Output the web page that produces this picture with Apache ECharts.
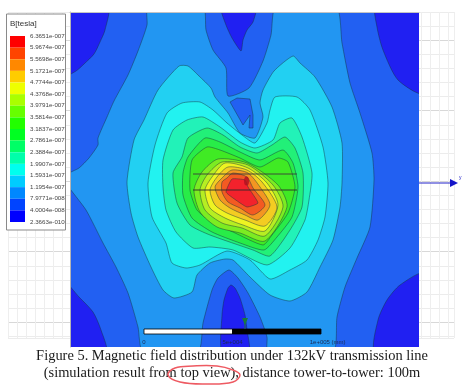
<!DOCTYPE html>
<html>
<head>
<meta charset="utf-8">
<style>
html,body{margin:0;padding:0;background:#fff;}
#c{width:468px;height:385px;filter:blur(0.35px);}
</style>
<script src="https://cdn.jsdelivr.net/npm/echarts@6/dist/echarts.min.js"></script>
</head>
<body>
<div id="c"></div>
<script>
// Colour-scale tick labels (tesla), top to bottom
const scaleTicks = ['6.3651e-007','5.9674e-007','5.5698e-007','5.1721e-007','4.7744e-007','4.3768e-007','3.9791e-007','3.5814e-007','3.1837e-007','2.7861e-007','2.3884e-007','1.9907e-007','1.5931e-007','1.1954e-007','7.9771e-008','4.0004e-008','2.3663e-010'];
const scaleColors = ['#ff0000','#ff4400','#ff8800','#ffcc00','#eeff00','#aaff00','#66ff00','#22ff00','#00ff22','#00ff66','#00ffaa','#00ffee','#00ccff','#0088ff','#0044ff','#0000ff'];

// Filled contour colours as they appear in the plot, outermost to innermost
const levelColors = ['#2020f2','#2260f2','#2296f2','#22d0f2','#22f2f0','#22f2b8','#22f078','#28ec48','#40ea24','#7cec22','#b6ee22','#eef322','#f3cc22','#f39622','#f35a22','#f3222c'];

// Contour outlines, in plot units
const cornerTL = [[66,6],[108,6],[105,30],[100,42],[94,54],[84,64],[76,71],[66,75]];
const cornerTR = [[376,6],[377,27],[383,50],[398,80],[423,93],[423,6]];
const cornerBL = [[66,284],[79,297],[93,312],[101,330],[106,352],[66,352]];
const cornerBR = [[423,274],[400,285],[387,300],[378,320],[375,352],[423,352]];
const lobeTop = [[221,6],[226,25],[232,38],[241,51],[243,40],[247,30],[253,22],[256,6]];
const lobeBottom = [[222,352],[222,315],[224,300],[228,288],[231,285],[235,288],[240,298],[245,315],[247,330],[249,352]];
const field1 = [[60,2],[430,2],[430,358],[60,358]];
const field2 = [[143,352],[138,327],[128,293],[116,267],[103,243],[86,210],[66,183],[66,175],[79,168],[89,158],[98,145],[98,138],[107,117],[114,101],[128,75],[138,51],[147,25],[148,6],[203,6],[206,30],[213,50],[226,68],[228,96],[249,88],[263,61],[271,35],[276,6],[336,6],[342,43],[350,83],[360,113],[372,153],[374,180],[370,227],[357,258],[345,287],[337,317],[333,352],[268,352],[267,337],[260,317],[248,293],[238,278],[229,270],[218,278],[212,290],[203,323],[198,352]];
const island = [[230,102],[237,98],[250,99],[253,115],[253,128],[249,128],[250,115],[243,125]];
const field3 = [[179,66],[188,66],[199,76],[211,88],[215,97],[228,113],[240,133],[255,138],[263,117],[260,103],[263,90],[274,71],[293,56],[300,63],[315,77],[332,107],[342,143],[342,183],[340,207],[333,240],[320,267],[307,292],[290,301],[270,295],[250,277],[233,260],[225,259],[210,263],[197,275],[192,292],[174,298],[163,290],[151,267],[138,237],[131,213],[127,182],[134,140],[144,120],[158,90]];
const field4 = [[182,103],[200,102],[213,110],[227,123],[242,135],[255,143],[267,123],[270,110],[275,97],[297,97],[310,110],[323,147],[328,183],[325,217],[318,240],[307,260],[290,270],[270,279],[250,260],[227,251],[200,265],[186,268],[172,263],[166,243],[152,217],[148,183],[155,145],[167,113]];
const field5 = [[173,130],[187,120],[203,117],[220,127],[240,142],[255,148],[273,140],[280,123],[292,118],[302,137],[312,173],[309,200],[305,220],[290,248],[267,265],[233,250],[210,247],[193,248],[176,232],[166,210],[163,187],[163,160]];
const field6 = [[173,173],[182,157],[188,138],[207,128],[223,135],[240,147],[257,153],[272,145],[285,137],[295,148],[303,173],[302,207],[290,230],[270,256],[253,250],[210,235],[190,225],[177,203]];
const field7 = [[183,173],[188,157],[205,138],[220,142],[240,152],[260,160],[283,150],[293,163],[298,187],[292,217],[277,237],[264,250],[240,243],[212,232],[192,218],[183,195]];
const field8 = [[192,160],[207,147],[220,150],[240,158],[260,167],[278,158],[288,162],[295,187],[288,213],[272,235],[263,245],[233,232],[213,223],[197,210],[190,190]];
const field9 = [[202,172],[218,159],[247,163],[278,185],[287,207],[265,241],[240,233],[217,227],[200,212],[194,190]];
const field10 = [[207,175],[222,162],[248,165],[273,185],[283,207],[265,236],[242,228],[222,223],[205,210],[200,190]];
const field11 = [[212,177],[225,163],[248,168],[267,183],[278,205],[265,231],[243,225],[225,218],[210,208],[205,190]];
const field12 = [[217,177],[228,167],[247,170],[262,182],[277,207],[265,226],[245,220],[227,213],[215,205],[210,190]];
const field13 = [[222,178],[232,170],[248,173],[260,187],[270,205],[258,220],[245,215],[230,208],[220,200],[215,187]];
const field14 = [[227,178],[233,173],[247,177],[253,188],[265,205],[253,215],[240,208],[228,202],[222,192],[222,182]];
const field15 = [[232,179],[245,180],[248,187],[258,203],[247,207],[233,198],[226,192]];

const contourBands = [
  [field1,1,0],[cornerTL,0,0.25],[cornerTR,0,0.25],[cornerBL,0,0.25],[cornerBR,0,0.25],[lobeTop,0,0.2],[lobeBottom,0,0.2],
  [field2,2,0.2],[island,1,0],[field3,3,0.2],[field4,4,0.2],[field5,5,0.2],[field6,6,0.2],[field7,7,0.2],[field8,8,0.2],
  [field9,9,0.25],[field10,10,0.25],[field11,11,0.25],[field12,12,0.25],[field13,13,0.25],[field14,14,0.25],[field15,15,0.15]
];

// Overhead conductors and the hot spot
const wireUpper = [[193,174],[297,174]];
const wireLower = [[193,190],[297,190]];
const hotSpot = [[246.5,181]];

// Scale bar (mm)
const barSegments = [[0,50000,'#ffffff'],[50000,100000,'#000000']];
const barLabels = {0:'0',50000:'5e+004',100000:'\u00a0\u00a0\u00a0\u00a0\u00a0\u00a0\u00a0\u00a01e+005 (mm)'};

const captionLines = ['Figure 5. Magnetic field distribution under 132kV transmission line','(simulation result from top view), distance tower-to-tower: 100m'];
const scaleTitle = 'B[tesla]';

const small = '"Liberation Sans",sans-serif';
const bgColors = ['#ececec','#ececec','#d8d8d8','#ececec','#ececec'];
const hidden = {axisLine:{show:false},axisTick:{show:false},axisLabel:{show:false},splitLine:{show:false}};

const chart = echarts.init(document.getElementById('c'),null,{renderer:'canvas'});
chart.setOption({
  animation:false,
  backgroundColor:'#fff',
  grid:[
    {left:8,top:12,width:446,height:326},
    {left:70,top:12,width:349,height:335},
    {left:10,top:36,width:15,height:186},
    {left:144,top:329,width:177,height:5}
  ],
  xAxis:[
    {gridIndex:0,type:'value',min:0,max:49.6,interval:1,axisLine:{show:false},axisTick:{show:false},axisLabel:{show:false},splitLine:{show:true,lineStyle:{color:'#eeeeee',width:1}}},
    Object.assign({gridIndex:1,type:'value',min:70,max:419},hidden,{position:'top',axisLine:{show:true,onZero:false,lineStyle:{color:'#c4c4c4',width:1}},z:20}),
    Object.assign({gridIndex:2,type:'value',min:0,max:1},hidden),
    {gridIndex:3,type:'value',min:0,max:100000,interval:50000,z:20,axisLine:{show:false},axisTick:{show:false},splitLine:{show:false},
     axisLabel:{margin:5,fontSize:6,fontFamily:small,color:'#1a2a55',formatter:v=>barLabels[v]}}
  ],
  yAxis:[
    {gridIndex:0,type:'value',min:0,max:23.12,interval:1,inverse:true,axisLine:{show:false},axisTick:{show:false},axisLabel:{show:false},splitLine:{show:true,lineStyle:{color:bgColors,width:1}}},
    Object.assign({gridIndex:1,type:'value',min:12,max:347,inverse:true},hidden,{axisLine:{show:true,onZero:false,lineStyle:{color:'#b4b4b4',width:1}},z:20}),
    {gridIndex:2,type:'category',data:scaleTicks,boundaryGap:false,inverse:true,position:'right',z:20,
     axisLine:{show:false},axisTick:{show:false},splitLine:{show:false},
     axisLabel:{interval:0,margin:5,fontSize:6.2,fontFamily:small,color:'#444444'}},
    Object.assign({gridIndex:3,type:'value',min:0,max:1},hidden)
  ],
  graphic:[
    {type:'rect',z:5,shape:{x:6.5,y:14,width:59,height:216},style:{fill:'#ffffff',stroke:'#8a8a8a',lineWidth:1}},
    {type:'text',z:20,x:10,y:24,style:{text:scaleTitle,font:'8px '+small,fill:'#333',textVerticalAlign:'middle'}},
    {type:'text',z:20,x:232,y:356,style:{text:captionLines[0],font:'14.45px "Liberation Serif",serif',fill:'#1a1a1a',textAlign:'center',textVerticalAlign:'middle'}},
    {type:'text',z:20,x:232,y:373,style:{text:captionLines[1],font:'14.45px "Liberation Serif",serif',fill:'#1a1a1a',textAlign:'center',textVerticalAlign:'middle'}},
    {type:'polygon',z:21,shape:{smooth:0.4,points:[[175,368],[193,366],[217,366],[233,370],[240,375],[233,382],[207,384],[180,382],[168,375]]},style:{fill:'none',stroke:'#ee5a62',lineWidth:1.5}},
    {type:'line',z:20,shape:{x1:419,y1:183,x2:451,y2:183},style:{stroke:'#2222c8',lineWidth:1}},
    {type:'polygon',z:20,shape:{points:[[450,179],[458,183],[450,187]]},style:{fill:'#1414c8'}},
    {type:'text',z:20,x:459,y:178,style:{text:'y',font:'5px '+small,fill:'#2222c8',textVerticalAlign:'middle'}},
    {type:'line',z:20,shape:{x1:245,y1:318,x2:245,y2:329},style:{stroke:'#1a7a3a',lineWidth:1}},
    {type:'polygon',z:20,shape:{points:[[242,318],[248,318],[245,325]]},style:{fill:'#1a7a3a'}}
  ],
  series:[
    {type:'custom',xAxisIndex:1,yAxisIndex:1,clip:true,z:3,silent:true,
     data:contourBands.map((b,i)=>[i]),encode:{x:[],y:[]},
     renderItem:(params,api)=>{
       const b=contourBands[api.value(0)];
       return {type:'polygon',shape:{points:b[0].map(p=>api.coord(p)),smooth:b[2]},
         style:{fill:levelColors[b[1]],stroke:'rgba(20,50,60,0.65)',lineWidth:0.7}};
     }},
    {type:'line',xAxisIndex:1,yAxisIndex:1,z:6,symbol:'none',data:wireUpper,lineStyle:{color:'#3b3b3b',width:0.9},silent:true},
    {type:'line',xAxisIndex:1,yAxisIndex:1,z:6,symbol:'none',data:wireLower,lineStyle:{color:'#2b2b2b',width:0.9},silent:true},
    {type:'scatter',xAxisIndex:1,yAxisIndex:1,z:6,data:hotSpot,symbol:'circle',symbolSize:[5,9],itemStyle:{color:'#b01020'},silent:true},
    {type:'custom',xAxisIndex:2,yAxisIndex:2,z:10,silent:true,clip:false,
     data:scaleColors.map((c,i)=>[i]),encode:{x:[],y:[]},
     renderItem:(params,api)=>{
       const i=api.value(0);
       const a=api.coord([0,i]),b=api.coord([1,i+1]);
       return {type:'rect',shape:{x:a[0],y:a[1],width:b[0]-a[0],height:b[1]-a[1]},style:{fill:scaleColors[i]}};
     }},
    {type:'custom',xAxisIndex:3,yAxisIndex:3,z:10,silent:true,clip:false,
     data:barSegments.map((s,i)=>[i]),encode:{x:[],y:[]},
     renderItem:(params,api)=>{
       const s=barSegments[api.value(0)];
       const a=api.coord([s[0],1]),b=api.coord([s[1],0]);
       return {type:'rect',shape:{x:a[0],y:a[1],width:b[0]-a[0],height:b[1]-a[1]},style:{fill:s[2],stroke:'#000',lineWidth:0.8}};
     }}
  ]
});
</script>
</body>
</html>
